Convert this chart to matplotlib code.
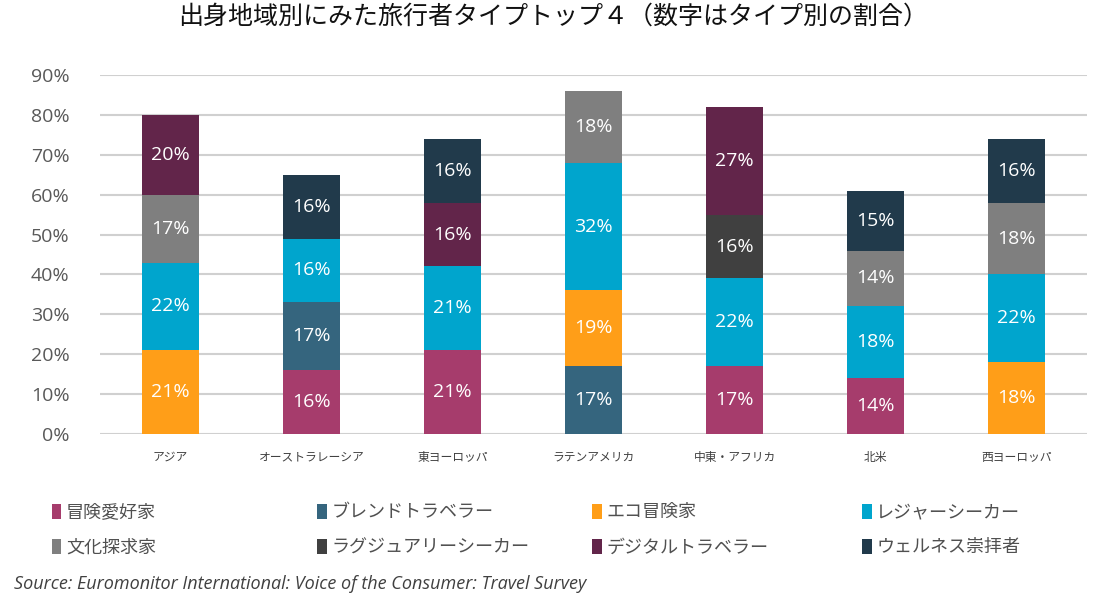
import numpy as np
import matplotlib.pyplot as plt
from matplotlib.patches import Patch

plt.rcParams['font.family'] = ['Noto Sans CJK JP', 'DejaVu Sans']

regions = ["アジア", "オーストラレーシア", "東ヨーロッパ", "ラテンアメリカ",
           "中東・アフリカ", "北米", "西ヨーロッパ"]
types = ["冒険愛好家", "ブレンドトラベラー", "エコ冒険家", "レジャーシーカー",
         "文化探求家", "ラグジュアリーシーカー", "デジタルトラベラー", "ウェルネス崇拝者"]
colors = ["#A63C6C", "#35657E", "#FF9E18", "#00A5CD",
          "#7F7F7F", "#404040", "#62254A", "#213A4B"]

# share (%) per traveller type, one value per region (0 = not in top 4)
adventure = [0, 16, 21, 0, 17, 14, 0]
blended = [0, 17, 0, 17, 0, 0, 0]
eco = [21, 0, 0, 19, 0, 0, 18]
leisure = [22, 16, 21, 32, 22, 18, 22]
culture = [17, 0, 0, 18, 0, 14, 18]
luxury = [0, 0, 0, 0, 16, 0, 0]
digital = [20, 0, 16, 0, 27, 0, 0]
wellness = [0, 16, 16, 0, 0, 15, 16]
series = [adventure, blended, eco, leisure, culture, luxury, digital, wellness]

fig = plt.figure(figsize=(11.07, 6.02), dpi=100)
ax = fig.add_axes([0.0903, 0.279, 0.8917, 0.5964])

x = np.arange(len(regions))
bottom = np.zeros(len(regions))
for vals, col in zip(series, colors):
    vals = np.array(vals, dtype=float)
    ax.bar(x, vals, 0.40, bottom=bottom, color=col, zorder=3)
    for xi, v, b in zip(x, vals, bottom):
        if v > 0:
            ax.text(xi, b + v / 2, f"{v:.0f}%", ha='center', va='center',
                    color='white', fontsize=14, family=['Open Sans', 'DejaVu Sans'], zorder=4)
    bottom += vals

ax.set_xlim(-0.5, len(regions) - 0.5)
ax.set_ylim(0, 90)
ax.set_yticks(np.arange(0, 91, 10))
ax.set_yticklabels([f"{v}%" for v in range(0, 91, 10)],
                   family=['Open Sans', 'DejaVu Sans'], fontsize=14, color='#595959')
ax.set_xticks(x)
ax.set_xticklabels(regions, fontsize=8.5, color='#404040')
ax.tick_params(axis='both', length=0)
ax.tick_params(axis='y', pad=22)
ax.tick_params(axis='x', pad=12)
ax.grid(axis='y', color='#D0D0D0', linewidth=1.5, zorder=0)
for s in ax.spines.values():
    s.set_visible(False)

fig.text(0.5, 0.972, "出身地域別にみた旅行者タイプトップ４（数字はタイプ別の割合）",
         ha='center', va='center', fontsize=18, color='#111111')

# legend: 2 rows x 4 columns, filled row by row
col_x = [0.040, 0.280, 0.528, 0.772]
for c in range(4):
    idx = [c, c + 4]
    handles = [Patch(facecolor=colors[i], edgecolor='none') for i in idx]
    leg = fig.legend(handles, [types[i] for i in idx], loc='upper left',
                     bbox_to_anchor=(col_x[c], 0.176), frameon=False, fontsize=13,
                     handlelength=0.55, handleheight=0.9, handletextpad=0.25,
                     labelspacing=0.95, borderaxespad=0)
    for t in leg.get_texts():
        t.set_color('#505050')

fig.text(0.013, 0.03, "Source: Euromonitor International: Voice of the Consumer: Travel Survey",
         ha='left', va='center', fontsize=13, style='italic', color='#404040',
         family=['Open Sans', 'DejaVu Sans'])

fig.savefig("out.png", dpi=100)
